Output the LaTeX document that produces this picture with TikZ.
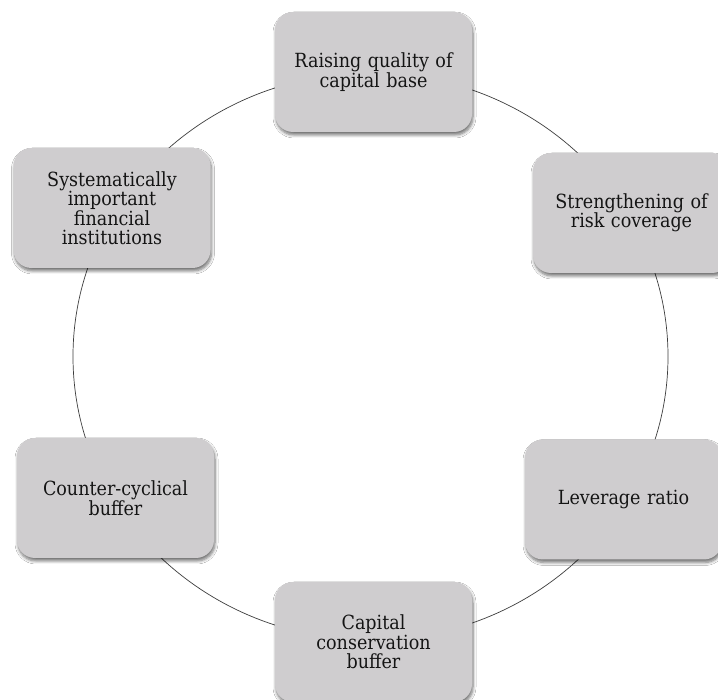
\documentclass[tikz,border=0pt]{standalone}
\usepackage{fontspec}
\setmainfont{DejaVu Serif Condensed}
\usetikzlibrary{shadows.blur}
\definecolor{boxfill}{RGB}{207,205,207}
\definecolor{ringline}{RGB}{60,60,60}
\tikzset{
  pillar/.style={draw=none, fill=boxfill, rounded corners=18pt,
    minimum width=197pt, minimum height=120pt, text width=190pt, align=center,
    font=\fontsize{19.5}{19.5}\selectfont, text=black!92,
    blur shadow={shadow xshift=1pt, shadow yshift=-3pt, shadow blur steps=6, shadow blur radius=3pt, shadow opacity=55}},
  ring/.style={draw=ringline, line width=0.7pt}
}
\begin{document}
\begin{tikzpicture}[x=1pt,y=1pt]
\useasboundingbox (0,0) rectangle (718,700);
\fill[white] (0,0) rectangle (718,700);
\coordinate (ctr) at (370.5,343.5);
\draw[ring] (ctr) ellipse [x radius=297.5, y radius=283.5];
\node[pillar] (quality) at (373.5,628) {Raising quality of\\capital base};
\node[pillar] (risk) at (631.5,487) {Strengthening of\\risk coverage};
\node[pillar] (lever) at (623.5,200.5) {Leverage ratio};
\node[pillar] (conserv) at (373.5,58) {Capital\\conservation\\buffer};
\node[pillar] (counter) at (115.5,202) {Counter-cyclical\\buffer};
\node[pillar] (sifi) at (112,492) {Systematically\\important\\financial\\institutions};
\end{tikzpicture}
\end{document}
